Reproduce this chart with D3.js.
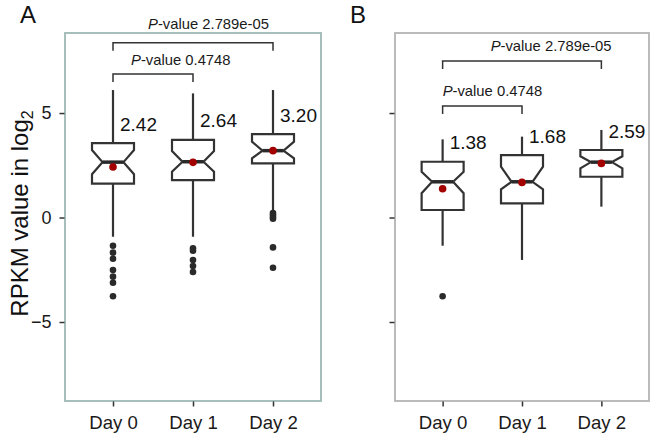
<!DOCTYPE html>
<html><head><meta charset="utf-8">
<script src="https://cdn.jsdelivr.net/npm/d3@7"></script>
<style>body{margin:0;background:#fff} svg{display:block} text{font-family:"Liberation Sans",Arial,Helvetica,sans-serif}</style>
</head><body>
<svg id="chart" width="657" height="443"></svg>
<script>
// ---------- data ----------
const categories = ["Day 0", "Day 1", "Day 2"];
const yTicks = [-5, 0, 5];

// Panel A
const aLowerWhisker = [-0.92, -0.92, 0.3];
const aQ1 = [1.62, 1.79, 2.59];
const aNotchLow = [2.07, 2.19, 2.83];
const aMedian = [2.65, 2.67, 3.2];
const aNotchHigh = [3.23, 3.18, 3.63];
const aQ3 = [3.56, 3.72, 3.99];
const aUpperWhisker = [6.1, 5.94, 6.1];
const aMean = [2.42, 2.64, 3.20];
const aMeanLabels = ["2.42", "2.64", "3.20"];
const aOutliers = [
  [-1.35, -1.68, -1.97, -2.51, -2.83, -3.12, -3.77],
  [-1.47, -1.59, -2.03, -2.32, -2.61],
  [0.22, 0.12, 0.03, -0.06, -1.43, -2.4]
];

// Panel B
const bLowerWhisker = [-1.35, -2.03, 0.52];
const bQ1 = [0.36, 0.68, 1.95];
const bNotchLow = [1.16, 1.35, 2.35];
const bMedian = [1.71, 1.71, 2.65];
const bNotchHigh = [2.19, 2.43, 2.93];
const bQ3 = [2.67, 2.99, 3.23];
const bUpperWhisker = [3.74, 3.87, 4.19];
const bMean = [1.38, 1.68, 2.59];
const bMeanLabels = ["1.38", "1.68", "2.59"];
const bOutliers = [[-3.77], [], []];

// Significance comparisons (same in both panels)
const pPairs = [[0, 2], [0, 1]];
const pValues = ["2.789e-05", "0.4748"];

// ---------- layout ----------
const svg = d3.select("#chart");
const plotTop = 33, plotBottom = 401;
const y = d3.scaleLinear().domain([-8.78, 8.83]).range([plotBottom, plotTop]);

const panels = [
  {
    letter: "A", left: 65, right: 321, frame: "#9db9b4", showLabels: true,
    lw: aLowerWhisker, q1: aQ1, nl: aNotchLow, med: aMedian, nh: aNotchHigh, q3: aQ3, uw: aUpperWhisker,
    mean: aMean, meanLabels: aMeanLabels, out: aOutliers,
    brackets: [{yPx: 42.7, textDx: 35, textDy: -13.5}, {yPx: 74, textDx: 18, textDy: -9}]
  },
  {
    letter: "B", left: 395, right: 649, frame: "#b4b4b4", showLabels: false,
    lw: bLowerWhisker, q1: bQ1, nl: bNotchLow, med: bMedian, nh: bNotchHigh, q3: bQ3, uw: bUpperWhisker,
    mean: bMean, meanLabels: bMeanLabels, out: bOutliers,
    brackets: [{yPx: 61, textDx: 48, textDy: -10}, {yPx: 106, textDx: 0, textDy: -10}]
  }
];

const ink = "#333333";
const halfW = 21, notchW = 10.5;

panels.forEach(p => {
  const g = svg.append("g");
  const x = d3.scalePoint().domain(categories).range([p.left, p.right]).padding(0.6);

  g.append("rect").attr("x", p.left).attr("y", plotTop)
    .attr("width", p.right - p.left).attr("height", plotBottom - plotTop)
    .attr("fill", "none").attr("stroke", p.frame).attr("stroke-width", 1.8);

  const yAxis = d3.axisLeft(y).tickValues(yTicks).tickSize(5).tickPadding(8);
  if (!p.showLabels) yAxis.tickFormat("");
  const ya = g.append("g").attr("transform", `translate(${p.left - 0.5},0)`).call(yAxis);
  ya.select(".domain").remove();
  ya.selectAll(".tick line").attr("stroke", ink).attr("stroke-width", 1.5);
  ya.selectAll(".tick text").attr("font-size", 18).attr("fill", "#1a1a1a")
    .style("font-family", '"Liberation Sans",Arial,sans-serif');

  const xa = g.append("g").attr("transform", `translate(0,${plotBottom + 0.5})`)
    .call(d3.axisBottom(x).tickSize(5).tickPadding(9));
  xa.select(".domain").remove();
  xa.selectAll(".tick line").attr("stroke", ink).attr("stroke-width", 1.5);
  xa.selectAll(".tick text").attr("font-size", 18.6).attr("fill", "#1a1a1a")
    .style("font-family", '"Liberation Sans",Arial,sans-serif');

  g.append("text").attr("x", p.left - 45).attr("y", 23).attr("font-size", 24)
    .attr("fill", "#111").text(p.letter);

  const idx = categories.map((c, i) => i);

  g.selectAll(".wu").data(idx).join("line")
    .attr("x1", i => x(categories[i])).attr("x2", i => x(categories[i]))
    .attr("y1", i => y(p.q3[i])).attr("y2", i => y(p.uw[i]))
    .attr("stroke", ink).attr("stroke-width", 2.2);
  g.selectAll(".wl").data(idx).join("line")
    .attr("x1", i => x(categories[i])).attr("x2", i => x(categories[i]))
    .attr("y1", i => y(p.q1[i])).attr("y2", i => y(p.lw[i]))
    .attr("stroke", ink).attr("stroke-width", 2.2);

  g.selectAll(".box").data(idx).join("path")
    .attr("d", i => {
      const cx = x(categories[i]);
      const pts = [
        [cx - halfW, y(p.q3[i])], [cx + halfW, y(p.q3[i])], [cx + halfW, y(p.nh[i])],
        [cx + notchW, y(p.med[i])], [cx + halfW, y(p.nl[i])], [cx + halfW, y(p.q1[i])],
        [cx - halfW, y(p.q1[i])], [cx - halfW, y(p.nl[i])], [cx - notchW, y(p.med[i])],
        [cx - halfW, y(p.nh[i])]
      ];
      return "M" + pts.map(q => q.join(",")).join("L") + "Z";
    })
    .attr("fill", "#fff").attr("stroke", ink).attr("stroke-width", 2.2).attr("stroke-linejoin", "miter");

  g.selectAll(".med").data(idx).join("line")
    .attr("x1", i => x(categories[i]) - notchW).attr("x2", i => x(categories[i]) + notchW)
    .attr("y1", i => y(p.med[i])).attr("y2", i => y(p.med[i]))
    .attr("stroke", "#2a2a2a").attr("stroke-width", 3.5);

  g.selectAll(".mean").data(idx).join("circle")
    .attr("cx", i => x(categories[i])).attr("cy", i => y(p.mean[i])).attr("r", 3.8)
    .attr("fill", "#a30000");

  const outs = [];
  p.out.forEach((arr, i) => arr.forEach(v => outs.push({i, v})));
  g.selectAll(".out").data(outs).join("circle")
    .attr("cx", d => x(categories[d.i])).attr("cy", d => y(d.v)).attr("r", 3.3)
    .attr("fill", "#2a2a2a");

  g.selectAll(".ml").data(idx).join("text")
    .attr("x", i => x(categories[i]) + 7).attr("y", i => y(p.q3[i] + 0.92))
    .attr("dy", "0.36em").attr("font-size", 19).attr("fill", "#111")
    .text(i => p.meanLabels[i]);

  pPairs.forEach((pair, k) => {
    const b = p.brackets[k];
    const x1 = x(categories[pair[0]]), x2 = x(categories[pair[1]]);
    g.append("path")
      .attr("d", `M${x1},${b.yPx + 8}V${b.yPx}H${x2}V${b.yPx + 8}`)
      .attr("fill", "none").attr("stroke", ink).attr("stroke-width", 1.5);
    const t = g.append("text").attr("x", x1 + b.textDx).attr("y", b.yPx + b.textDy)
      .attr("font-size", 14.8).attr("fill", "#1a1a1a");
    t.append("tspan").attr("font-style", "italic").text("P");
    t.append("tspan").text("-value " + pValues[k]);
  });
});

const yt = svg.append("text")
  .attr("transform", "translate(28,213.5) rotate(-90)")
  .attr("text-anchor", "middle").attr("font-size", 24).attr("fill", "#111");
yt.append("tspan").text("RPKM value in log");
yt.append("tspan").attr("font-size", 16).attr("dy", 5).text("2");
</script>
</body></html>
